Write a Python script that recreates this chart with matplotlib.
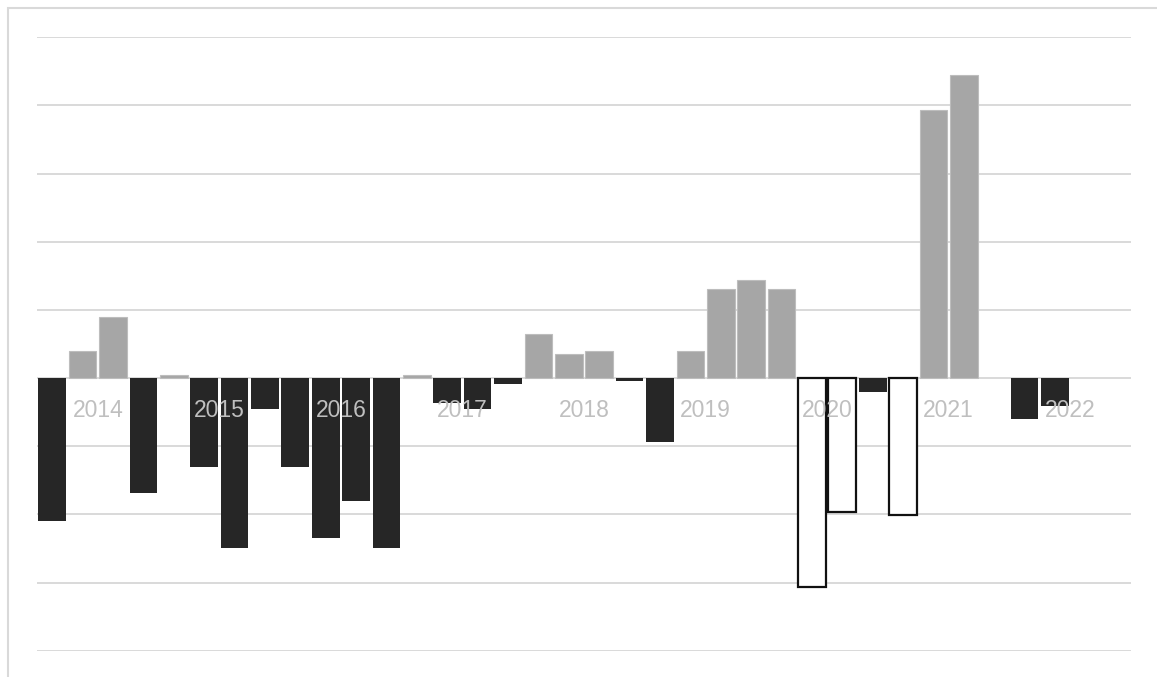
import matplotlib.pyplot as plt
import numpy as np
from matplotlib.patches import Rectangle

# quarterly values, 2014 Q1 .. 2022 Q4
years = ['2014', '2015', '2016', '2017', '2018', '2019', '2020', '2021', '2022']
values = [-2.10, 0.40, 0.90, -1.69,
          0.05, -1.30, -2.50, -0.45,
          -1.30, -2.35, -1.80, -2.50,
          0.05, -0.36, -0.45, -0.09,
          0.65, 0.35, 0.40, -0.05,
          -0.94, 0.40, 1.30, 1.44,
          1.30, -3.07, -1.96, -0.21,
          -2.01, 3.94, 4.44, 0.0,
          -0.60, -0.41, 0.0, 0.0]
# quarters drawn as outlined (white) bars
outlined = [25, 26, 28]

W, H = 1157, 677
fig = plt.figure(figsize=(W / 100, H / 100), dpi=100)
ax = fig.add_axes([37 / W, 1 - 650.7 / H, (1131 - 37) / W, (650.7 - 37.3) / H])

# light border round the chart area (open at right/bottom like the original)
fig.patches.append(Rectangle((7.5 / W, -0.1), 1.2, 1 - 7.5 / H + 0.1,
                             transform=fig.transFigure, fill=False,
                             edgecolor='#d9d9d9', lw=1.5))

for i, v in enumerate(values):
    if v == 0:
        continue
    if i in outlined:
        ax.bar(i, v, width=0.91, color='white', edgecolor='#111111', lw=1.6, zorder=3)
    elif v > 0:
        ax.bar(i, v, width=0.91, color='#a6a6a6', edgecolor='#bdbdbd', lw=0.8, zorder=3)
    else:
        ax.bar(i, v, width=0.91, color='#262626', lw=0, zorder=3)

ax.set_xlim(-0.5, len(values) - 0.5)
ax.set_ylim(-4, 5)
ax.set_yticks(np.arange(-4, 6))
ax.yaxis.grid(True, color='#d9d9d9', lw=1.4, zorder=0)
ax.set_axisbelow(True)
ax.tick_params(left=False, bottom=False, labelleft=False, labelbottom=False)
for s in ax.spines.values():
    s.set_visible(False)

for k, yr in enumerate(years):
    ax.text(k * 4 + 1.5, -0.47, yr, ha='center', va='center', fontsize=16.5,
            family='Liberation Sans', color='#bfbfbf', zorder=5)

fig.savefig('out.png', dpi=100)
